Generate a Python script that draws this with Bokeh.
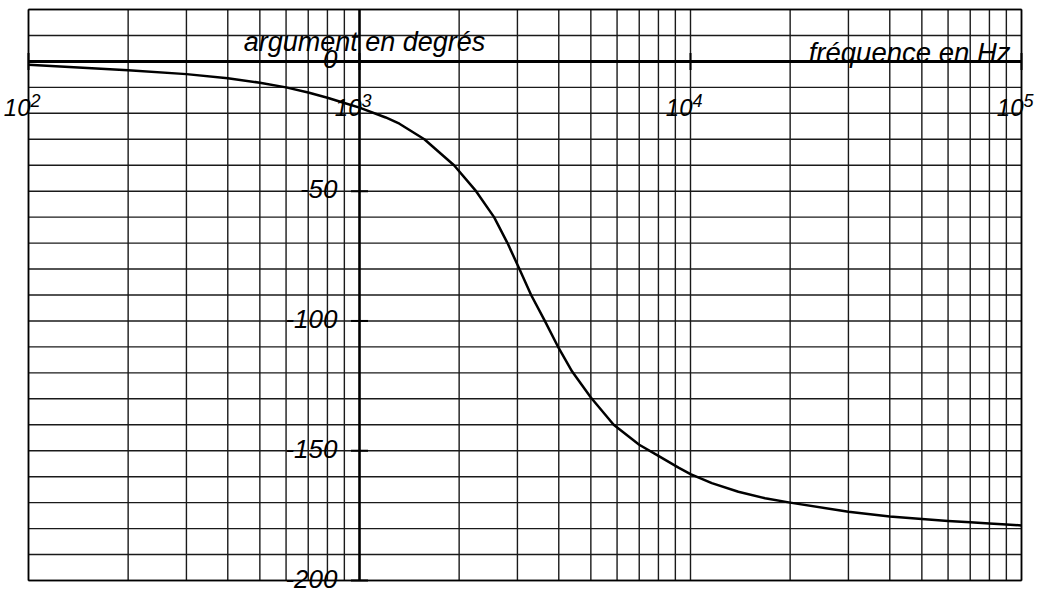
from bokeh.plotting import figure
from bokeh.models import Range1d, Label
from bokeh.embed import file_html
from bokeh.resources import INLINE
import math

# Phase response (frequency in Hz, argument in degrees)
freq = [100, 200, 300, 400, 500, 600, 700, 800, 900, 1000, 1200, 1320, 1570,
        1930, 2250, 2550, 2800, 3030, 3300, 3630, 4000, 4390, 5000, 5860,
        7000, 8000, 9200, 10000, 11600, 13950, 16800, 20000, 30000, 40000,
        50000, 60000, 70000, 80000, 90000, 100000]
phase = [-1.3, -3.4, -4.9, -6.5, -8.2, -10.0, -12.0, -14.0, -16.0, -17.8,
         -21.6, -24.0, -30.0, -40.0, -50.0, -60.0, -70.0, -79.5, -90.0,
         -100.0, -110.5, -119.5, -129.5, -140.0, -147.7, -152.0, -156.5,
         -159.0, -162.5, -165.8, -168.3, -170.0, -173.5, -175.3, -176.3,
         -177.1, -177.6, -178.0, -178.4, -178.8]

x_ticks = [100, 1000, 10000, 100000]
x_tick_base = ["10", "10", "10", "10"]
x_tick_exponents = ["2", "3", "4", "5"]
y_ticks = [0, -50, -100, -150, -200]
y_tick_labels = ["0", "-50", "-100", "-150", "-200"]
x_grid = [m * 10 ** e for e in (2, 3, 4) for m in range(1, 10)] + [100000]
y_grid = list(range(-200, 21, 10))
y_title = "argument en degrés"
x_title = "fréquence en Hz"

FONT = "Liberation Sans"

# page geometry: the graph paper occupies a box inside the canvas; the frame is
# the whole canvas so that labels around the box are never clipped.
W, H = 1045, 591
BOX_L, BOX_R, BOX_T, BOX_B = 28, 1021, 9, 580
XMIN, XMAX, YMIN, YMAX = 100, 100000, -200, 20
px_dec = (BOX_R - BOX_L) / (math.log10(XMAX) - math.log10(XMIN))
px_deg = (BOX_B - BOX_T) / (YMAX - YMIN)
x_range = Range1d(10 ** (math.log10(XMIN) - BOX_L / px_dec),
                  10 ** (math.log10(XMAX) + (W - BOX_R) / px_dec))
y_range = Range1d(YMIN - (H - BOX_B) / px_deg, YMAX + BOX_T / px_deg)

p = figure(width=W, height=H, x_axis_type="log", x_range=x_range, y_range=y_range,
           x_axis_location=None, y_axis_location=None,
           output_backend="svg", toolbar_location=None,
           min_border=0, min_border_left=0, min_border_right=0,
           min_border_top=0, min_border_bottom=0)
p.background_fill_color = "white"
p.border_fill_color = "white"
p.outline_line_color = None
p.xgrid.visible = False
p.ygrid.visible = False

GRID = "#1a1a1a"
# graph-paper grid, bounded to the box
p.segment(x0=x_grid, y0=[YMIN] * len(x_grid), x1=x_grid, y1=[YMAX] * len(x_grid),
          line_color=GRID, line_width=1.4)
p.segment(x0=[XMIN] * len(y_grid), y0=y_grid, x1=[XMAX] * len(y_grid), y1=y_grid,
          line_color=GRID, line_width=1.4)
# box edges slightly heavier
p.segment(x0=[XMIN, XMAX], y0=[YMIN, YMIN], x1=[XMIN, XMAX], y1=[YMAX, YMAX],
          line_color="black", line_width=1.6)
p.segment(x0=[XMIN, XMIN], y0=[YMIN, YMAX], x1=[XMAX, XMAX], y1=[YMIN, YMAX],
          line_color="black", line_width=1.6)

# axes drawn through the plot
p.segment(x0=[XMIN], y0=[0], x1=[XMAX], y1=[0], line_color="black", line_width=3)
p.segment(x0=[1000], y0=[YMIN], x1=[1000], y1=[YMAX], line_color="black", line_width=2.5)

# tick marks
p.scatter(x=x_ticks, y=[0] * len(x_ticks), marker="dash", angle=math.pi / 2,
          size=17, line_color="black", line_width=2)
p.scatter(x=[1000] * len(y_ticks), y=y_ticks, marker="dash", size=17,
          line_color="black", line_width=2)

# curve
p.line(freq, phase, line_color="black", line_width=2.5, line_join="round")


def lab(x, y, text, size, align, baseline, dx, dy):
    p.add_layout(Label(x=x, y=y, text=text, text_font=FONT, text_font_style="italic",
                       text_font_size=size, text_color="black", text_align=align,
                       text_baseline=baseline, x_offset=dx, y_offset=dy))


for xt, base, ex in zip(x_ticks, x_tick_base, x_tick_exponents):
    lab(xt, 0, base, "24px", "right", "alphabetic", 2, -46)
    lab(xt, 0, ex, "18px", "left", "alphabetic", 2, -39)

for yt, txt in zip(y_ticks, y_tick_labels):
    lab(1000, yt, txt, "26px", "right", "middle", -22, 2)

lab(1000, 0, y_title, "27px", "center", "alphabetic", 5, 19)
lab(100000, 0, x_title, "27.5px", "right", "alphabetic", -11, 9)

open("out.html", "w").write(file_html(p, INLINE))
